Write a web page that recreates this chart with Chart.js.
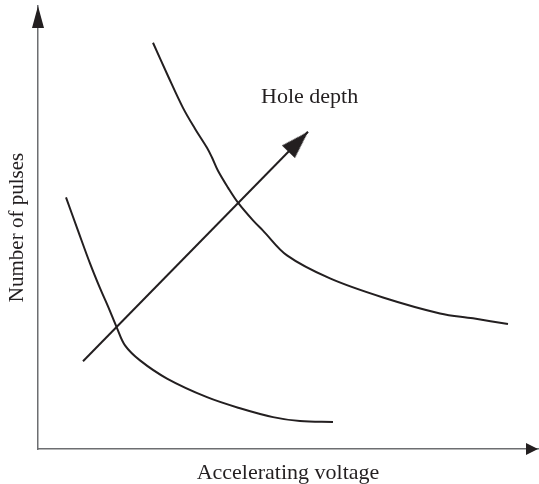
<!DOCTYPE html>
<html>
<head>
<meta charset="utf-8">
<script src="https://cdn.jsdelivr.net/npm/chart.js@4.4.1/dist/chart.umd.min.js"></script>
<style>
  html, body { margin: 0; padding: 0; background: #fff; overflow: hidden; }
  #wrap { width: 539px; height: 484px; }
</style>
</head>
<body>
<div id="wrap"><canvas id="chart"></canvas></div>
<script>
// curves (arbitrary units, 0..100 on both axes)
const lowCurveX  = [5.6, 8.0, 10.4, 12.4, 14.0, 15.8, 17.4, 20.4, 25.8, 33.8, 40.4, 47.0, 52.4, 59.0];
const lowCurveY  = [56.8, 49.3, 41.9, 36.3, 32.2, 27.3, 23.4, 20.0, 15.9, 11.7, 9.2, 7.2, 6.3, 6.1];
const highCurveX = [23.0, 26.0, 29.0, 31.4, 33.8, 34.8, 36.0, 38.0, 40.0, 43.0, 45.0, 49.8, 58.4, 69.0, 80.4, 87.0, 94.0];
const highCurveY = [91.7, 84.2, 77.0, 72.3, 68.0, 65.8, 62.8, 59.0, 55.6, 51.6, 49.3, 43.7, 38.5, 34.2, 30.6, 29.5, 28.2];
const depthArrowX = [9.0, 54.0];
const depthArrowY = [19.8, 71.6];
const depthLabel = { text: "Hole depth", x: 44.6, y: 78.0 };

const ink = "#231f20";
const serif = "'Liberation Serif', 'Times New Roman', serif";

function toPoints(xs, ys) {
    const pts = [];
    for (let i = 0; i < xs.length; i++) pts.push({ x: xs[i], y: ys[i] });
    return pts;
}

// arrow head image, tip at the centre so it can sit on the last point
const head = document.createElement("canvas");
head.width = 18;
head.height = 60;
const hc = head.getContext("2d");
hc.fillStyle = ink;
hc.beginPath();
hc.moveTo(9, 30);
hc.lineTo(18, 58);
hc.lineTo(0, 58);
hc.closePath();
hc.fill();

const axisArrows = {
    id: "axisArrows",
    afterDraw(chart) {
        const ctx = chart.ctx;
        const a = chart.chartArea;
        ctx.save();
        ctx.fillStyle = ink;
        ctx.beginPath();
        ctx.moveTo(a.left, a.top);
        ctx.lineTo(a.left + 6, a.top + 22);
        ctx.lineTo(a.left - 6, a.top + 22);
        ctx.closePath();
        ctx.fill();
        ctx.beginPath();
        ctx.moveTo(a.right, a.bottom);
        ctx.lineTo(a.right - 12, a.bottom - 6);
        ctx.lineTo(a.right - 12, a.bottom + 6);
        ctx.closePath();
        ctx.fill();

        const xs = chart.scales.x, ys = chart.scales.y;
        ctx.font = "22px " + serif;
        ctx.textAlign = "left";
        ctx.textBaseline = "alphabetic";
        ctx.fillText(depthLabel.text, xs.getPixelForValue(depthLabel.x), ys.getPixelForValue(depthLabel.y));
        ctx.restore();
    }
};

new Chart(document.getElementById("chart"), {
    type: "line",
    data: {
        datasets: [
            {
                data: toPoints(lowCurveX, lowCurveY),
                borderColor: ink,
                borderWidth: 2,
                pointRadius: 0,
                tension: 0.35
            },
            {
                data: toPoints(highCurveX, highCurveY),
                borderColor: ink,
                borderWidth: 2,
                pointRadius: 0,
                tension: 0.35
            },
            {
                data: toPoints(depthArrowX, depthArrowY),
                borderColor: ink,
                borderWidth: 2,
                pointRadius: [0, 5],
                pointStyle: [false, head],
                pointRotation: 44.4,
                tension: 0
            }
        ]
    },
    options: {
        responsive: true,
        maintainAspectRatio: false,
        animation: false,
        layout: { autoPadding: false, padding: { top: 6, right: 1, left: 0, bottom: 0 } },
        plugins: {
            legend: { display: false },
            tooltip: { enabled: false }
        },
        scales: {
            x: {
                type: "linear",
                min: 0,
                max: 100,
                grid: { display: false },
                ticks: { display: false },
                border: { color: "#6d6e71", width: 1.5 },
                title: {
                    display: true,
                    text: "Accelerating voltage",
                    color: ink,
                    font: { family: serif, size: 22, lineHeight: 1 },
                    padding: { top: 5, bottom: 0 }
                }
            },
            y: {
                type: "linear",
                min: 0,
                max: 100,
                grid: { display: false },
                ticks: { display: false },
                border: { color: "#6d6e71", width: 1.5 },
                title: {
                    display: true,
                    text: "Number of pulses",
                    color: ink,
                    font: { family: serif, size: 21, lineHeight: 1 },
                    padding: { top: 7, bottom: 2 }
                }
            }
        }
    },
    plugins: [axisArrows]
});
</script>
</body>
</html>
